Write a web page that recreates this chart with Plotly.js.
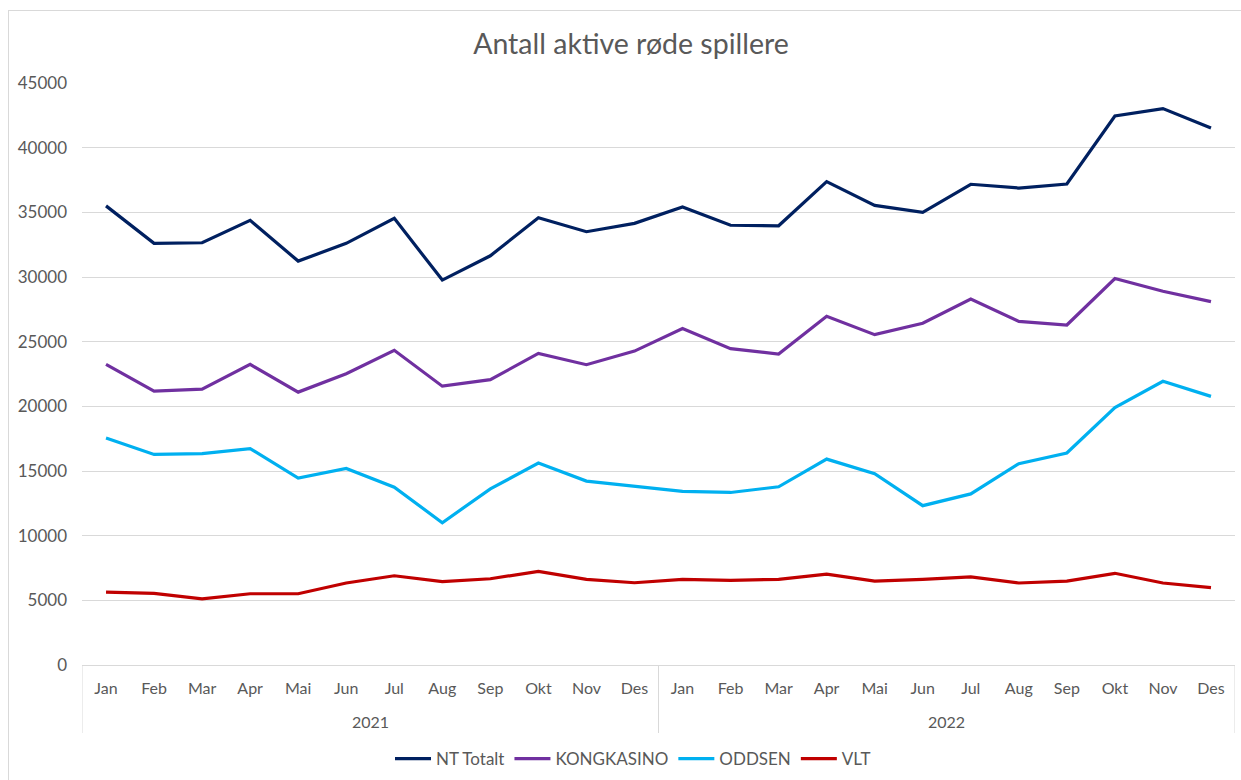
<!DOCTYPE html>
<html>
<head>
<meta charset="utf-8">
<script src="https://cdn.plot.ly/plotly-3.0.1.min.js"></script>
<style>
  html, body { margin: 0; padding: 0; background: #ffffff; overflow: hidden; width: 1241px; height: 780px; }
  #frame { position: absolute; left: 8px; top: 10px; width: 1400px; height: 900px; border: 1px solid #d9d9d9; box-sizing: border-box; }
  #chart { position: absolute; left: 0; top: 0; width: 1241px; height: 780px; }
</style>
</head>
<body>
<div id="frame"></div>
<div id="chart"></div>
<script>
const years = ["2021", "2022"];
const months = ["Jan", "Feb", "Mar", "Apr", "Mai", "Jun", "Jul", "Aug", "Sep", "Okt", "Nov", "Des"];

const ntTotalt   = [35500, 32600, 32650, 34380, 31230, 32600, 34540, 29760, 31640, 34580, 33500, 34150,
                    35410, 34000, 33960, 37370, 35540, 35000, 37170, 36880, 37190, 42450, 43020, 41520];
const kongkasino = [23240, 21180, 21330, 23240, 21100, 22520, 24330, 21560, 22060, 24090, 23220, 24270,
                    26010, 24460, 24040, 26960, 25540, 26420, 28300, 26570, 26290, 29880, 28900, 28100];
const oddsen     = [17550, 16280, 16340, 16730, 14450, 15200, 13750, 11000, 13620, 15610, 14220, 13830,
                    13420, 13340, 13780, 15920, 14790, 12320, 13230, 15570, 16390, 19900, 21940, 20770];
const vlt        = [5640, 5540, 5120, 5510, 5510, 6340, 6900, 6440, 6670, 7240, 6620, 6360,
                    6620, 6550, 6620, 7030, 6490, 6620, 6820, 6340, 6490, 7090, 6340, 5980];

const seriesNames = ["NT Totalt", "KONGKASINO", "ODDSEN", "VLT"];
const seriesValues = [ntTotalt, kongkasino, oddsen, vlt];
const seriesColors = ["#002060", "#7030A0", "#00B0F0", "#C00000"];

// one position per month across both years, labelled with the month name
const xIndex = [];
const xMonthLabels = [];
years.forEach((y, yi) => months.forEach((m, mi) => { xIndex.push(yi * months.length + mi); xMonthLabels.push(m); }));

const traces = seriesNames.map((name, i) => ({
  type: "scatter",
  mode: "lines",
  name: name,
  x: xIndex,
  y: seriesValues[i],
  line: { color: seriesColors[i], width: 3.2 },
  hoverinfo: "y+name"
}));

const font = "Lato, 'Open Sans', 'Noto Sans', sans-serif";
const gray = "#595959";
const grid = "#d9d9d9";
const n = months.length;

// year group labels and dividers, placed in axis (category index) units
const yearAnnotations = years.map((y, yi) => ({
  text: y,
  xref: "x", x: yi * n + (n - 1) / 2,
  yref: "paper", y: -56 / 582, yanchor: "middle", xanchor: "center",
  showarrow: false,
  font: { family: font, size: 16, color: gray }
}));
const dividerShapes = [];
for (let k = 0; k <= years.length; k++) {
  dividerShapes.push({
    type: "line", xref: "x", yref: "paper",
    x0: k * n - 0.5, x1: k * n - 0.5, y0: 0, y1: -68 / 582,
    line: { color: grid, width: 1 }
  });
}

const layout = {
  width: 1241,
  height: 780,
  paper_bgcolor: "rgba(0,0,0,0)",
  plot_bgcolor: "rgba(0,0,0,0)",
  margin: { l: 82, r: 6, t: 83, b: 115, autoexpand: false },
  font: { family: font, color: gray, size: 16 },
  title: {
    text: "Antall aktive røde spillere",
    font: { family: font, size: 28.5, color: gray },
    xref: "container",
    x: 631 / 1241, xanchor: "center",
    y: 1 - 44 / 780, yanchor: "middle"
  },
  xaxis: {
    range: [-0.5, xIndex.length - 0.5],
    tickmode: "array",
    tickvals: xIndex,
    ticktext: xMonthLabels,
    showgrid: false,
    zeroline: false,
    showline: true,
    linecolor: grid,
    linewidth: 1,
    ticks: "",
    ticklabelstandoff: 9,
    tickfont: { family: font, size: 16, color: gray },
    fixedrange: true
  },
  yaxis: {
    range: [0, 45000],
    dtick: 5000,
    tick0: 0,
    showgrid: true,
    gridcolor: grid,
    gridwidth: 1,
    zeroline: false,
    showline: false,
    ticks: "",
    ticklabelstandoff: 14,
    tickfont: { family: font, size: 17, color: gray },
    tickformat: "d",
    fixedrange: true
  },
  annotations: yearAnnotations,
  shapes: dividerShapes,
  showlegend: true,
  legend: {
    orientation: "h",
    xref: "container", yref: "container",
    x: 633 / 1241, xanchor: "center",
    y: 1 - 759 / 780, yanchor: "middle",
    itemwidth: 36,
    font: { family: font, size: 17, color: gray },
    bgcolor: "rgba(0,0,0,0)"
  }
};

Plotly.newPlot("chart", traces, layout, { displayModeBar: false, responsive: false });
</script>
</body>
</html>
